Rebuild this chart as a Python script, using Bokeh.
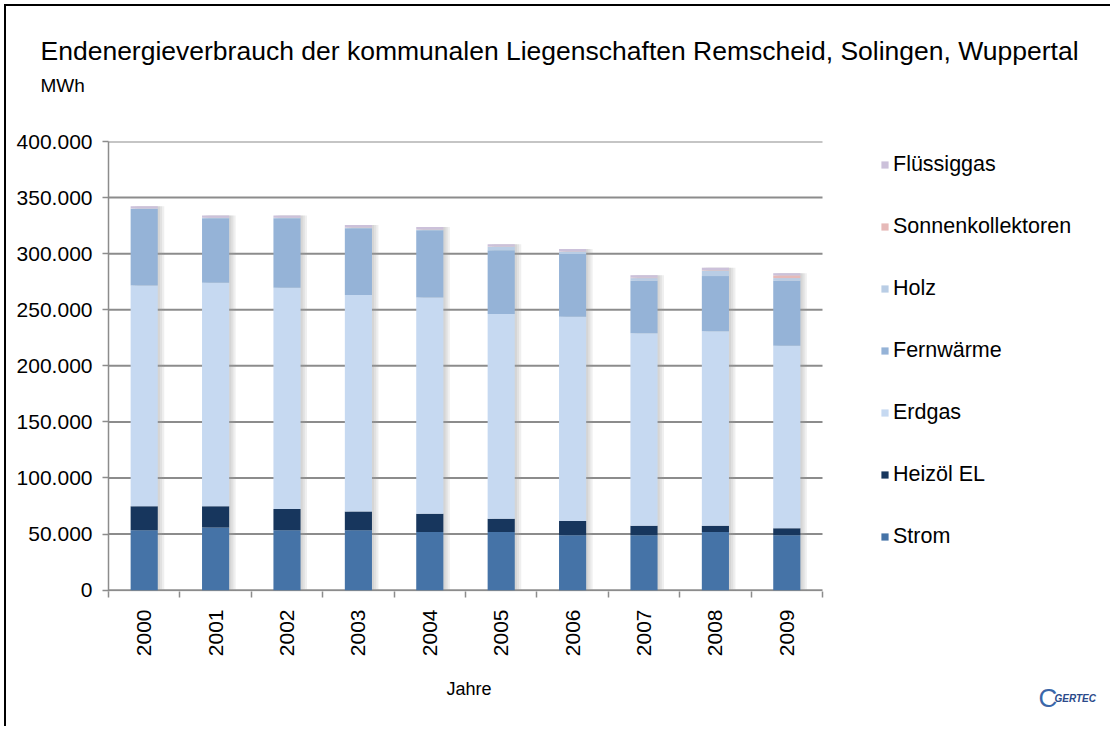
import math
from bokeh.plotting import figure
from bokeh.models import (ColumnDataSource, FixedTicker, Legend, LegendItem,
                          Title, Label, Range1d)
from bokeh.embed import file_html
from bokeh.resources import INLINE

# ---------------- data (MWh) ----------------
years = ["2000", "2001", "2002", "2003", "2004",
         "2005", "2006", "2007", "2008", "2009"]
strom = [53500, 55800, 53500, 53500, 51800, 51800, 49000, 49000, 51800, 49000]
heizoel = [21200, 18900, 18800, 16700, 16400, 11900, 12600, 8500, 5700, 6100]
erdgas = [197000, 199300, 197300, 192900, 192800, 182500, 182200, 171500, 173300, 162900]
fernwaerme = [68100, 57600, 62000, 59600, 59900, 56900, 55800, 46800, 49200, 57800]
holz = [400, 400, 400, 500, 500, 3000, 2000, 2400, 5000, 2400]
sonnen = [100, 100, 100, 200, 200, 300, 300, 400, 400, 2400]
fluessig = [2000, 2000, 2000, 2100, 2100, 2100, 2300, 2200, 2100, 2000]

series_names = ["Strom", "Heizöl EL", "Erdgas", "Fernwärme", "Holz",
                "Sonnenkollektoren", "Flüssiggas"]
series_values = [strom, heizoel, erdgas, fernwaerme, holz, sonnen, fluessig]
series_colors = ["#4573A7", "#17365D", "#C6D9F1", "#95B3D7", "#B9CDE5",
                 "#E6B9B8", "#CCC1DA"]

y_ticks = [0, 50000, 100000, 150000, 200000, 250000, 300000, 350000, 400000]
y_tick_labels = ["0", "50.000", "100.000", "150.000", "200.000",
                 "250.000", "300.000", "350.000", "400.000"]

title_text = "Endenergieverbrauch der kommunalen Liegenschaften Remscheid, Solingen, Wuppertal"
unit_text = "MWh"
x_title = "Jahre"
logo_text = "GERTEC"

FONT = "Liberation Sans"
GRID = "#8c8c8c"

# ---------------- sources ----------------
n = len(years)
xs = [i + 0.5 for i in range(n)]
data = {"x": xs, "year": years}
keys = []
for i, vals in enumerate(series_values):
    k = "s%d" % i
    keys.append(k)
    data[k] = vals
data["total"] = [sum(v[i] for v in series_values) for i in range(n)]
for j, off in enumerate([0.03, 0.06, 0.09]):
    data["sh%d" % j] = [x + off for x in xs]
src = ColumnDataSource(data)

grid_src = ColumnDataSource({"y": y_ticks, "x0": [0] * len(y_ticks),
                             "x1": [n] * len(y_ticks)})

# ---------------- figure ----------------
# plot area: category part spans 714 px, the rest of the frame holds the legend
frame_px, cat_px = 1000, 714
p = figure(width=1106, height=722, output_backend="svg", toolbar_location=None,
           x_range=Range1d(0, n * frame_px / cat_px),
           y_range=Range1d(-1200, 400000),
           min_border_left=102, min_border_right=4,
           min_border_top=135, min_border_bottom=137)
p.outline_line_color = None
p.background_fill_color = "white"
p.border_fill_color = "white"
p.styles = {"border-left": "2px solid black", "border-top": "2px solid black",
            "margin-left": "4px", "margin-top": "4px"}

# grid lines (only across the category area)
p.segment(x0="x0", x1="x1", y0="y", y1="y", source=grid_src,
          line_color=GRID, line_width=2)

# soft bar shadow (three overlapping layers -> gradient)
for j in range(3):
    p.vbar(x="sh%d" % j, top="total", width=0.38, source=src,
           color="#9a9a9a", alpha=0.16, line_color=None)

renderers = p.vbar_stack(keys, x="x", width=0.38, source=src,
                         color=series_colors, line_color=None)

# ---------------- axes ----------------
p.yaxis.ticker = FixedTicker(ticks=y_ticks)
p.yaxis.major_label_overrides = dict(zip(y_ticks, y_tick_labels))
p.yaxis.axis_line_color = GRID
p.yaxis.axis_line_width = 1.5
p.yaxis.major_tick_line_color = GRID
p.yaxis.major_tick_line_width = 1.5
p.yaxis.major_tick_out = 6
p.yaxis.major_tick_in = 0
p.yaxis.minor_tick_line_color = None
p.yaxis.major_label_text_font = FONT
p.yaxis.major_label_text_font_size = "21px"
p.yaxis.major_label_text_color = "black"
p.yaxis.major_label_standoff = 10

p.xaxis.ticker = FixedTicker(ticks=xs, minor_ticks=list(range(0, n + 1)))
p.xaxis.major_label_overrides = dict(zip(xs, years))
p.xaxis.major_tick_line_color = None
p.xaxis.minor_tick_line_color = GRID
p.xaxis.minor_tick_line_width = 1.5
p.xaxis.minor_tick_out = 6
p.xaxis.minor_tick_in = 0
p.xaxis.axis_line_color = None
p.xaxis.major_label_orientation = math.pi / 2
p.xaxis.major_label_text_font = FONT
p.xaxis.major_label_text_font_size = "21px"
p.xaxis.major_label_text_color = "black"
p.xaxis.major_label_standoff = 12

p.xgrid.grid_line_color = None
p.ygrid.grid_line_color = None

# ---------------- legend ----------------
items = [LegendItem(label=series_names[i], renderers=[renderers[i]])
         for i in reversed(range(len(series_names)))]
legend = Legend(items=items, location=(772, 42), orientation="vertical",
                padding=0, margin=0, spacing=37,
                glyph_width=9, glyph_height=9, label_height=25,
                label_standoff=4, border_line_color=None,
                background_fill_alpha=0,
                label_text_font=FONT, label_text_font_size="21.5px",
                label_text_color="black")
p.add_layout(legend)

# ---------------- titles ----------------
p.add_layout(Title(text=" ", align="left", standoff=23,
                   text_font=FONT, text_font_size="19px"), "above")
p.add_layout(Title(text=unit_text, align="left", offset=-68, standoff=0,
                   text_font=FONT, text_font_size="19px",
                   text_font_style="normal", text_color="black"), "above")
p.add_layout(Title(text=title_text, align="left", offset=-68, standoff=14,
                   text_font=FONT, text_font_size="26.5px",
                   text_font_style="normal", text_color="black"), "above")

# x axis title and logo (stacked below the axis)
p.add_layout(Label(x=338, y=-9, x_units="screen", y_units="screen",
                   text=x_title, text_font=FONT, text_font_size="18px",
                   text_baseline="middle", text_color="black"), "below")
p.add_layout(Label(x=930, y=12, x_units="screen", y_units="screen",
                   text="C", text_font=FONT, text_font_size="26px",
                   text_baseline="middle", text_color="#3b67a9"), "below")
p.add_layout(Label(x=946, y=22, x_units="screen", y_units="screen",
                   text=logo_text, text_font=FONT, text_font_size="10px",
                   text_font_style="bold italic", text_baseline="middle",
                   text_color="#2b4a8a"), "below")

open("out.html", "w").write(file_html(p, INLINE))
